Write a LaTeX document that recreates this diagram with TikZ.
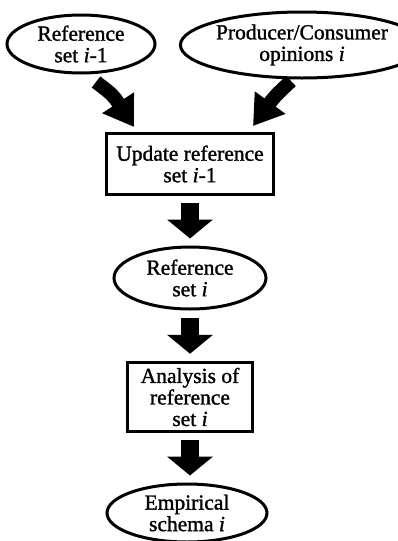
\documentclass[tikz,border=0pt]{standalone}
\usepackage{fontspec}
\setmainfont{Liberation Serif}[
  BoldFont=Liberation Serif, BoldFeatures={FakeBold=1.3},
  BoldItalicFont=Liberation Serif Italic, BoldItalicFeatures={FakeBold=1.3}]
\usetikzlibrary{shapes.geometric,arrows.meta}

\tikzset{
  txt/.style={font=\fontsize{21.5}{21.5}\selectfont\bfseries, align=center, inner sep=0pt},
  oval/.style={txt, ellipse, draw, line width=3pt},
  block/.style={txt, rectangle, draw, line width=3.5pt},
  flowarrow/.style={line width=18pt, -{Triangle[length=19pt,width=45pt]},
                    shorten <=7pt, shorten >=7pt},
  sidearrow/.style={line width=14pt, -{Triangle[length=29pt,width=36pt]}},
}

\begin{document}
\begin{tikzpicture}[x=1pt, y=-1pt]
  \useasboundingbox (0,0) rectangle (397,541);

  % inputs
  \node[oval, minimum width=148pt, minimum height=58pt] (prev) at (81,44)
    {Reference\\set \textit{i}-1};
  \node[oval, minimum width=188pt, minimum height=66pt] (opin) at (302,45)
    {Producer/Consumer\\opinions \textit{i}};

  % update step
  \node[block, minimum width=167pt, minimum height=61pt] (update) at (190,164)
    {Update reference\\set \textit{i}-1};

  \node[oval, minimum width=152pt, minimum height=62pt] (cur) at (190,278)
    {Reference\\set \textit{i}};

  \node[block, minimum width=125pt, minimum height=69pt] (analysis) at (190,397)
    {Analysis of\\reference\\set \textit{i}};

  \node[oval, minimum width=160pt, minimum height=58pt] (schema) at (187,513)
    {Empirical\\schema \textit{i}};

  % free ends of the two converging arrows
  \coordinate (prevtail) at (96,82);
  \coordinate (prevtip) at (134,127);
  \coordinate (opintail) at (291,81);
  \coordinate (opintip) at (253,126);

  \draw[sidearrow] (prevtail) .. controls (113,95) .. (prevtip);
  \draw[sidearrow] (opintail) .. controls (275,96) .. (opintip);

  \draw[flowarrow] (update.south) -- (cur.north);
  \draw[flowarrow] (cur.north |- cur.south) -- (analysis.north);
  \draw[flowarrow] (analysis.south) -- (analysis.south |- schema.north);
\end{tikzpicture}
\end{document}
